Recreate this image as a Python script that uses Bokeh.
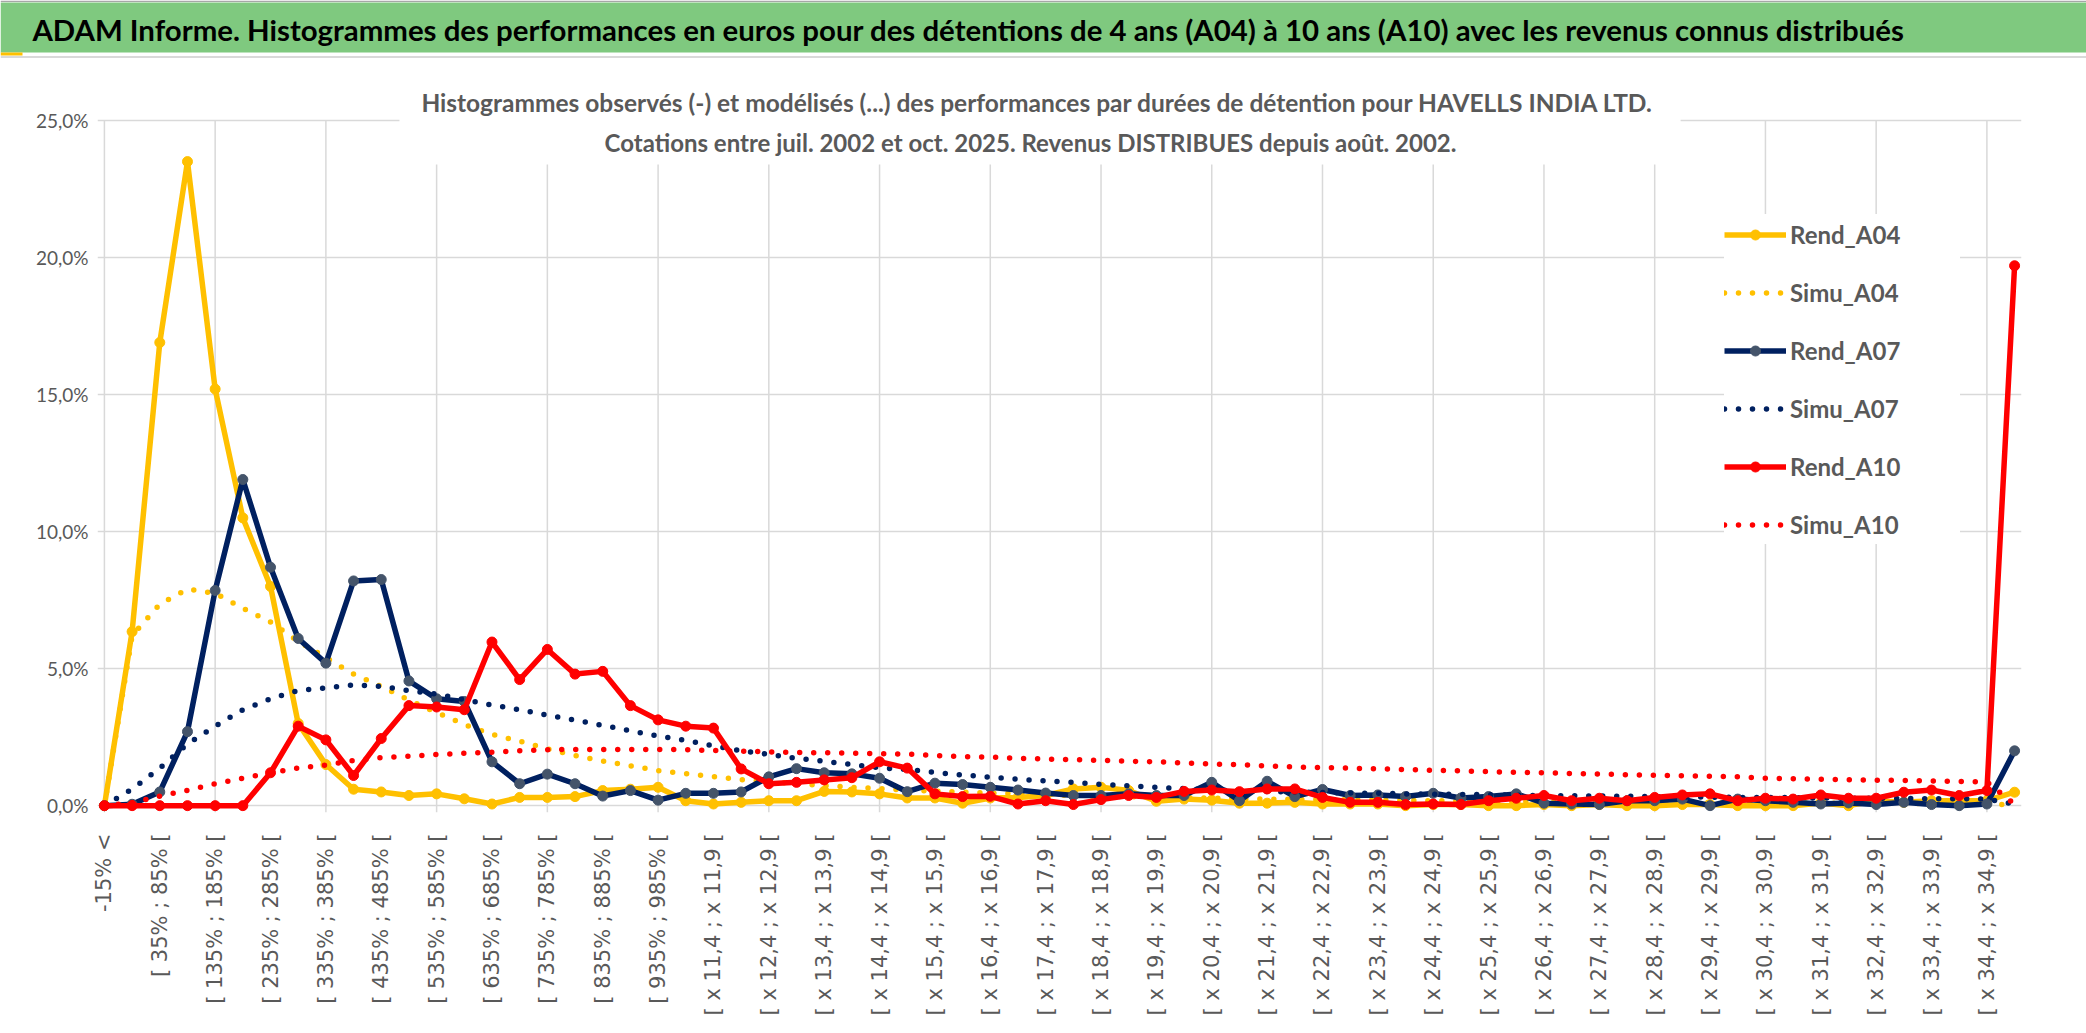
import math
from bokeh.plotting import figure
from bokeh.layouts import column
from bokeh.models import Range1d, FixedTicker, Legend, LegendItem, ColumnDataSource
from bokeh.core.properties import value
from bokeh.embed import file_html
from bokeh.resources import INLINE

# ---------------- data ----------------
categories = [
    "-15% <", "[ -15% ; 35% [", "[ 35% ; 85% [", "[ 85% ; 135% [", "[ 135% ; 185% [",
    "[ 185% ; 235% [", "[ 235% ; 285% [", "[ 285% ; 335% [", "[ 335% ; 385% [", "[ 385% ; 435% [",
    "[ 435% ; 485% [", "[ 485% ; 535% [", "[ 535% ; 585% [", "[ 585% ; 635% [", "[ 635% ; 685% [",
    "[ 685% ; 735% [", "[ 735% ; 785% [", "[ 785% ; 835% [", "[ 835% ; 885% [", "[ 885% ; 935% [",
    "[ 935% ; 985% [", "[ x 10,9 ; x 11,4 [", "[ x 11,4 ; x 11,9 [", "[ x 11,9 ; x 12,4 [", "[ x 12,4 ; x 12,9 [",
    "[ x 12,9 ; x 13,4 [", "[ x 13,4 ; x 13,9 [", "[ x 13,9 ; x 14,4 [", "[ x 14,4 ; x 14,9 [", "[ x 14,9 ; x 15,4 [",
    "[ x 15,4 ; x 15,9 [", "[ x 15,9 ; x 16,4 [", "[ x 16,4 ; x 16,9 [", "[ x 16,9 ; x 17,4 [", "[ x 17,4 ; x 17,9 [",
    "[ x 17,9 ; x 18,4 [", "[ x 18,4 ; x 18,9 [", "[ x 18,9 ; x 19,4 [", "[ x 19,4 ; x 19,9 [", "[ x 19,9 ; x 20,4 [",
    "[ x 20,4 ; x 20,9 [", "[ x 20,9 ; x 21,4 [", "[ x 21,4 ; x 21,9 [", "[ x 21,9 ; x 22,4 [", "[ x 22,4 ; x 22,9 [",
    "[ x 22,9 ; x 23,4 [", "[ x 23,4 ; x 23,9 [", "[ x 23,9 ; x 24,4 [", "[ x 24,4 ; x 24,9 [", "[ x 24,9 ; x 25,4 [",
    "[ x 25,4 ; x 25,9 [", "[ x 25,9 ; x 26,4 [", "[ x 26,4 ; x 26,9 [", "[ x 26,9 ; x 27,4 [", "[ x 27,4 ; x 27,9 [",
    "[ x 27,9 ; x 28,4 [", "[ x 28,4 ; x 28,9 [", "[ x 28,9 ; x 29,4 [", "[ x 29,4 ; x 29,9 [", "[ x 29,9 ; x 30,4 [",
    "[ x 30,4 ; x 30,9 [", "[ x 30,9 ; x 31,4 [", "[ x 31,4 ; x 31,9 [", "[ x 31,9 ; x 32,4 [", "[ x 32,4 ; x 32,9 [",
    "[ x 32,9 ; x 33,4 [", "[ x 33,4 ; x 33,9 [", "[ x 33,9 ; x 34,4 [", "[ x 34,4 ; x 34,9 [", "x 34,9 <",
]

rend_a04 = [
    0, 6.35, 16.9, 23.5, 15.2, 10.5, 8.0, 3.0, 1.5, 0.6,
    0.5, 0.37, 0.43, 0.25, 0.06, 0.3, 0.3, 0.33, 0.55, 0.6,
    0.67, 0.18, 0.06, 0.12, 0.18, 0.18, 0.52, 0.5, 0.43, 0.28,
    0.28, 0.09, 0.28, 0.3, 0.37, 0.61, 0.67, 0.55, 0.16, 0.24,
    0.2, 0.09, 0.09, 0.12, 0.06, 0.06, 0.06, 0.0, 0.04, 0.04,
    0.0, 0.0, 0.04, 0.0, 0.04, 0.0, 0.0, 0.04, 0.04, 0.0,
    0.0, 0.0, 0.1, 0.0, 0.18, 0.12, 0.18, 0.18, 0.18, 0.49,
]
simu_a04 = [
    0, 6.2, 7.35, 7.9, 7.75, 7.2, 6.7, 6.0, 5.4, 4.8,
    4.35, 3.85, 3.4, 2.96, 2.6, 2.35, 2.07, 1.83, 1.63, 1.45,
    1.28, 1.17, 1.06, 0.95, 0.87, 0.8, 0.73, 0.67, 0.62, 0.57,
    0.53, 0.49, 0.46, 0.43, 0.40, 0.37, 0.35, 0.33, 0.31, 0.29,
    0.27, 0.26, 0.24, 0.23, 0.22, 0.21, 0.20, 0.19, 0.18, 0.17,
    0.16, 0.15, 0.15, 0.14, 0.13, 0.13, 0.12, 0.12, 0.11, 0.11,
    0.10, 0.10, 0.09, 0.09, 0.09, 0.08, 0.08, 0.08, 0.07, 0.02,
]
rend_a07 = [
    0, 0.05, 0.5, 2.7, 7.85, 11.9, 8.7, 6.1, 5.2, 8.2,
    8.25, 4.55, 3.9, 3.8, 1.6, 0.8, 1.15, 0.8, 0.35, 0.55,
    0.2, 0.45, 0.45, 0.5, 1.05, 1.35, 1.2, 1.16, 1.0, 0.51,
    0.82, 0.77, 0.67, 0.57, 0.46, 0.37, 0.37, 0.43, 0.37, 0.37,
    0.85, 0.18, 0.89, 0.33, 0.59, 0.37, 0.39, 0.33, 0.45, 0.28,
    0.33, 0.43, 0.09, 0.06, 0.04, 0.18, 0.18, 0.24, 0.0, 0.24,
    0.18, 0.12, 0.06, 0.1, 0.04, 0.12, 0.04, 0.0, 0.06, 2.0,
]
simu_a07 = [
    0, 0.6, 1.37, 2.25, 2.9, 3.5, 3.9, 4.2, 4.3, 4.4,
    4.35, 4.2, 4.07, 3.87, 3.67, 3.5, 3.3, 3.12, 2.93, 2.73,
    2.54, 2.38, 2.18, 2.0, 1.87, 1.73, 1.62, 1.5, 1.38, 1.32,
    1.21, 1.12, 1.04, 0.96, 0.9, 0.85, 0.78, 0.72, 0.67, 0.62,
    0.58, 0.55, 0.52, 0.5, 0.48, 0.46, 0.45, 0.43, 0.42, 0.41,
    0.40, 0.38, 0.37, 0.36, 0.35, 0.34, 0.33, 0.32, 0.31, 0.30,
    0.30, 0.29, 0.28, 0.27, 0.27, 0.26, 0.25, 0.25, 0.24, 0.05,
]
rend_a10 = [
    0, 0, 0, 0, 0, 0, 1.2, 2.9, 2.4, 1.1,
    2.45, 3.65, 3.6, 3.5, 5.97, 4.6, 5.7, 4.8, 4.9, 3.65,
    3.13, 2.9, 2.83, 1.34, 0.8, 0.85, 0.94, 1.02, 1.6, 1.37,
    0.43, 0.33, 0.34, 0.06, 0.18, 0.04, 0.22, 0.37, 0.3, 0.52,
    0.57, 0.51, 0.61, 0.61, 0.3, 0.12, 0.12, 0.04, 0.06, 0.04,
    0.18, 0.27, 0.37, 0.18, 0.27, 0.18, 0.3, 0.39, 0.43, 0.18,
    0.27, 0.24, 0.39, 0.27, 0.27, 0.49, 0.57, 0.37, 0.55, 19.7,
]
simu_a10 = [
    0, 0.1, 0.35, 0.56, 0.8, 1.0, 1.2, 1.37, 1.48, 1.65,
    1.75, 1.8, 1.87, 1.91, 1.95, 2.0, 2.04, 2.05, 2.05, 2.05,
    2.05, 2.04, 2.01, 1.99, 1.96, 1.94, 1.93, 1.91, 1.9, 1.88,
    1.83, 1.79, 1.77, 1.73, 1.7, 1.68, 1.65, 1.62, 1.6, 1.56,
    1.52, 1.5, 1.45, 1.41, 1.39, 1.37, 1.34, 1.32, 1.29, 1.27,
    1.24, 1.22, 1.2, 1.17, 1.15, 1.13, 1.11, 1.09, 1.07, 1.05,
    1.0, 0.98, 0.96, 0.95, 0.93, 0.92, 0.9, 0.88, 0.86, 0.05,
]

y_ticks = [0, 5, 10, 15, 20, 25]
y_tick_labels = ["0,0%", "5,0%", "10,0%", "15,0%", "20,0%", "25,0%"]

title_text = ("ADAM Informe. Histogrammes des performances en euros pour des détentions "
              "de 4 ans (A04) à 10 ans (A10) avec les revenus connus distribués")
subtitle_1 = ("Histogrammes observés (-) et modélisés (...) des performances par durées "
              "de détention pour HAVELLS INDIA LTD.")
subtitle_2 = "Cotations entre juil. 2002 et oct. 2025. Revenus DISTRIBUES depuis août. 2002."

# ---------------- layout constants (page pixels) ----------------
W, H = 2086, 1033
HEAD_H = 58          # header strip height
X_POS0 = 104.0       # page x of first category
X_STEP = 27.68       # pixels per category
Y_ZERO = 805.0       # page y of 0 %
Y_STEP = 27.4        # pixels per 1 %
PAD = 0.25

YELLOW = "#FFC000"
NAVY = "#002060"
SLATE = "#44546A"
RED = "#FF0000"
GRID = "#d9d9d9"
TXT = "#595959"
GREEN = "#7FC97F"


def dx(px):
    return (px - X_POS0) / X_STEP


def dy(py):
    return (Y_ZERO - py) / Y_STEP


n = len(categories)

# ---------------- header strip (green band + title) ----------------
head = figure(width=W, height=HEAD_H, x_range=Range1d(0, W), y_range=Range1d(HEAD_H, 0),
              x_axis_type=None, y_axis_type=None, output_backend="svg",
              toolbar_location=None, tools="", title=None,
              min_border=0, min_border_left=0, min_border_right=0,
              min_border_top=0, min_border_bottom=0)
head.outline_line_color = None
head.background_fill_color = "white"
head.border_fill_color = "white"
if hasattr(head, "frame_align"):
    head.frame_align = False
head.quad(left=[0], right=[W], top=[0], bottom=[1.5], fill_color="#a6a6a6", line_color=None)
head.quad(left=[0], right=[W], top=[2], bottom=[52], fill_color=GREEN, line_color=None)
head.quad(left=[0], right=[22], top=[52], bottom=[55], fill_color=YELLOW, line_color=None)
head.quad(left=[0], right=[W], top=[55.5], bottom=[57.5], fill_color=GRID, line_color=None)
head.text(x=[968], y=[28.5], text=[title_text], text_align="center", text_baseline="middle",
          text_font=value("Lato"), text_font_style="bold", text_font_size="29.4px",
          text_color="black")

# ---------------- main chart ----------------
frame_left = X_POS0 - PAD * X_STEP
frame_right = X_POS0 + (n - 1 + PAD) * X_STEP
frame_bottom = Y_ZERO + PAD * Y_STEP          # page coords
main_h = H - HEAD_H
y_top = dy(HEAD_H)

p = figure(width=W, height=main_h,
           x_range=Range1d(-PAD, n - 1 + PAD),
           y_range=Range1d(-PAD, y_top),
           output_backend="svg", toolbar_location=None, tools="", title=None,
           min_border_left=int(round(frame_left)),
           min_border_right=int(round(W - frame_right)),
           min_border_top=0,
           min_border_bottom=int(round(H - frame_bottom)))
p.outline_line_color = None
p.background_fill_color = "white"
p.border_fill_color = "white"
if hasattr(p, "frame_align"):
    p.frame_align = False

label_ticks = list(range(0, n - 1, 2))
grid_ticks = list(range(0, n, 4))
xt = FixedTicker(ticks=label_ticks, minor_ticks=[])
p.xaxis.ticker = xt
p.xaxis.major_label_overrides = {t: categories[t] for t in label_ticks}
p.xaxis.major_label_orientation = math.pi / 2
p.xaxis.major_label_text_font = "DejaVu Sans"
p.xaxis.major_label_text_font_size = "21px"
p.xaxis.major_label_text_color = TXT
p.xaxis.major_label_standoff = 21
p.xaxis.axis_line_color = None
p.xaxis.major_tick_line_color = None
p.xaxis.minor_tick_line_color = None
p.xaxis.major_tick_out = 0
p.xaxis.major_tick_in = 0
p.xgrid.grid_line_color = None
p.xgrid.minor_grid_line_color = None
p.xgrid.visible = False

yt = FixedTicker(ticks=y_ticks, minor_ticks=[])
p.yaxis.ticker = yt
p.ygrid.ticker = yt
p.yaxis.major_label_overrides = dict(zip(y_ticks, y_tick_labels))
p.yaxis.major_label_text_font = "Lato"
p.yaxis.major_label_text_font_size = "19px"
p.yaxis.major_label_text_color = TXT
p.yaxis.major_label_standoff = 9
p.yaxis.axis_line_color = None
p.yaxis.major_tick_line_color = None
p.yaxis.minor_tick_line_color = None
p.yaxis.major_tick_out = 0
p.yaxis.major_tick_in = 0
p.ygrid.grid_line_color = GRID
p.ygrid.grid_line_width = 1.5

# vertical category gridlines (every 4 categories, from just below 0 % up to 25 %)
p.segment(x0=grid_ticks, y0=-PAD, x1=grid_ticks, y1=25, line_color=GRID, line_width=1.5)

# white box behind the subtitle
p.quad(left=[dx(399)], right=[dx(1680)], top=[y_top], bottom=[dy(164)],
       fill_color="white", line_color=None)
p.text(x=[dx(1037)], y=[dy(102)], text=[subtitle_1], text_align="center",
       text_baseline="middle", text_font=value("Lato"), text_font_style="bold",
       text_font_size="24.5px", text_color=TXT)
p.text(x=[dx(1030)], y=[dy(142)], text=[subtitle_2], text_align="center",
       text_baseline="middle", text_font=value("Lato"), text_font_style="bold",
       text_font_size="24px", text_color=TXT)

# series
src = ColumnDataSource(dict(pos=list(range(n)), rend_a04=rend_a04, simu_a04=simu_a04,
                            rend_a07=rend_a07, simu_a07=simu_a07,
                            rend_a10=rend_a10, simu_a10=simu_a10))
LW = 5.5
DOT = "0 14"
items = []
specs = [("rend_a04", "Rend_A04", YELLOW, YELLOW, False),
         ("simu_a04", "Simu_A04", YELLOW, None, True),
         ("rend_a07", "Rend_A07", NAVY, SLATE, False),
         ("simu_a07", "Simu_A07", NAVY, None, True),
         ("rend_a10", "Rend_A10", RED, RED, False),
         ("simu_a10", "Simu_A10", RED, None, True)]
for col, name, color, mcolor, dotted in specs:
    if dotted:
        r = p.line("pos", col, source=src, line_color=color, line_width=LW,
                   line_dash=DOT, line_cap="round")
        items.append(LegendItem(label=name, renderers=[r]))
    else:
        r = p.line("pos", col, source=src, line_color=color, line_width=LW,
                   line_join="round")
        m = p.scatter("pos", col, source=src, size=10, fill_color=mcolor,
                      line_color=mcolor)
        items.append(LegendItem(label=name, renderers=[r, m]))

legend = Legend(items=items, location=(int(round(1724 - frame_left)), 268),
                orientation="vertical", glyph_width=62, glyph_height=25,
                label_height=40, spacing=18, padding=10, margin=0,
                label_standoff=4, label_width=170,
                label_text_font="Lato", label_text_font_style="bold",
                label_text_font_size="24px", label_text_color=TXT,
                border_line_color=None, background_fill_color="white",
                background_fill_alpha=1)
p.add_layout(legend, "center")

layout = column(head, p, spacing=0)
open("out.html", "w").write(file_html(layout, INLINE, title="ADAM Informe"))
